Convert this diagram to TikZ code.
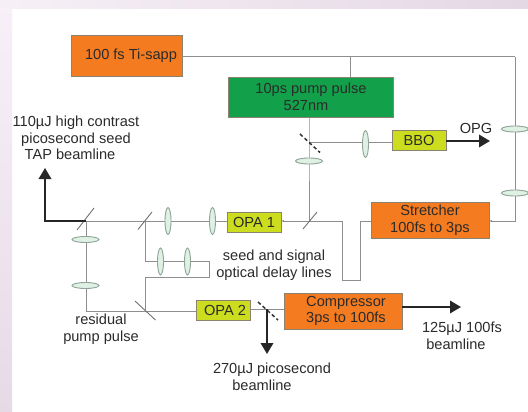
\documentclass[tikz,border=0pt]{standalone}
\usepackage{fontspec}
\setmainfont{Liberation Sans}
\usetikzlibrary{shapes.geometric,arrows.meta}
\definecolor{orangebox}{HTML}{F47B20}
\definecolor{greenbox}{HTML}{12A04A}
\definecolor{yellowbox}{HTML}{CCDC1E}
\definecolor{beamgray}{HTML}{8E8E8E}
\definecolor{edgegray}{HTML}{8C8270}
\definecolor{lensfill}{HTML}{DFF0E4}
\definecolor{lensedge}{HTML}{8FA396}
\definecolor{inktext}{HTML}{2B2B2B}
\tikzset{
  base/.style={draw=edgegray,line width=0.9pt,rectangle,inner sep=0pt,text=inktext,align=center,font=\fontsize{14.6}{16.6}\selectfont},
  orangeb/.style={base,fill=orangebox},
  greenb/.style={base,fill=greenbox},
  yellowb/.style={base,fill=yellowbox},
  beam/.style={draw=beamgray,line width=1pt},
  power/.style={draw=black!85,line width=1.9pt,-{Triangle[length=11pt,width=12.5pt]}},
  feed/.style={beam,-{Latex[length=2.5pt,width=2.5pt]}},
  splitter/.style={draw=beamgray!80!black,line width=0.9pt},
  mirror/.style={draw=black!80,line width=1.5pt,dash pattern=on 3.6pt off 2.6pt},
  vlens/.style={ellipse,draw=lensedge,fill=lensfill,line width=0.9pt,minimum width=6pt,minimum height=27pt,inner sep=0pt},
  hlens/.style={ellipse,draw=lensedge,fill=lensfill,line width=0.9pt,minimum width=27pt,minimum height=6pt,inner sep=0pt},
  lab/.style={text=inktext,align=center,inner sep=0pt,font=\fontsize{14.6}{16.6}\selectfont}
}
\begin{document}
\begin{tikzpicture}[x=1pt,y=-1pt]
\useasboundingbox (0,0) rectangle (528,412);
% page background
\fill[white] (0,0) rectangle (528,412);
\shade[left color=black!1!white!95!violet,right color=black!6!white!90!violet] (0,0) rectangle (528,9);
\shade[top color=white!94!violet,bottom color=black!5!white!90!violet] (0,9) rectangle (12,412);
% boxes
\node[orangeb,minimum width=111pt,minimum height=41pt] (ti) at (126.5,55.5) {\hspace*{9pt}100 fs Ti-sapp};
\node[greenb,minimum width=165pt,minimum height=40pt] (pump) at (311,97) {10ps pump pulse\\527nm\hspace*{10pt}};
\node[yellowb,minimum width=54pt,minimum height=20pt] (bbo) at (419,140) {BBO};
\node[orangeb,minimum width=118pt,minimum height=36pt] (stretch) at (430,220) {Stretcher\\100fs to 3ps};
\node[yellowb,minimum width=54pt,minimum height=20pt] (opa1) at (254,222.5) {OPA 1};
\node[yellowb,minimum width=54pt,minimum height=20pt] (opa2) at (223,310) {\hspace*{4pt}OPA 2};
\node[orangeb,minimum width=118pt,minimum height=36pt] (comp) at (343,311) {\hspace*{6pt}Compressor\\\hspace*{6pt}3ps to 100fs};
% junctions
\coordinate (topr) at (515,57);
\coordinate (strR) at (515,221);
\coordinate (pumpT) at (350,57);
\coordinate (bsA) at (309,221);
\coordinate (mA) at (309,142);
\coordinate (bsB) at (145.5,221);
\coordinate (bsC) at (86,221);
\coordinate (bsD) at (145.5,311);
\coordinate (cor86) at (86,311);
\coordinate (d1) at (145.5,261);
\coordinate (d2) at (209,261);
\coordinate (d3) at (209,277);
\coordinate (d4) at (145.5,277);
\coordinate (s1) at (342,221);
\coordinate (s2) at (342,280);
\coordinate (s3) at (360,280);
\coordinate (s4) at (360,221.5);
\coordinate (tapC) at (45,221);
\coordinate (tapT) at (45,168);
\coordinate (mB) at (267,309);
\coordinate (mBd) at (267,354);
\coordinate (compOut) at (461,307);
\coordinate (opgOut) at (490,141);
% beams
\draw[beam] (ti.east |- topr) -- (topr);
\draw[feed] (topr) -- (strR) -- (stretch.east |- strR);
\draw[beam] (pumpT) -- (pumpT |- pump.north);
\draw[beam] (mA |- pump.south) -- (mA) -- (bsA);
\draw[beam] (mA) -- (bbo.west |- mA);
\draw[feed] (s4 -| stretch.west) -- (s4) -- (s3) -- (s2) -- (s1) -- (s1 -| opa1.east);
\draw[beam] (opa1.west |- bsC) -- (bsC);
\draw[beam] (bsB) -- (d1) -- (d2) -- (d3) -- (d4) -- (bsD);
\draw[beam] (bsC) -- (cor86) -- (opa2.west |- cor86);
\draw[beam] (opa2.east |- mB) -- (comp.west |- mB);
% splitters and mirrors
\draw[splitter] (77,230) -- (94,208);
\draw[splitter] (138,229.5) -- (152,212);
\draw[splitter] (303,229) -- (317,212);
\draw[splitter] (135,301) -- (155.5,320);
\draw[mirror] (300,134) -- (320,152.5);
\draw[mirror] (258,302) -- (278,320);
% lenses
\node[vlens] (l1) at (168,221) {};
\node[vlens] (l2) at (212.5,221) {};
\node[vlens] (l3) at (160.5,261.5) {};
\node[vlens] (l4) at (187.5,261.5) {};
\node[vlens] (l5) at (365.5,144) {};
\node[hlens] (l6) at (309,161) {};
\node[hlens] (l7) at (515,129) {};
\node[hlens] (l8) at (515,193) {};
\node[hlens] (l9) at (85.5,239.5) {};
\node[hlens] (l10) at (85.5,285.5) {};
% output beams
\draw[power] (bsC) -- (tapC) -- (tapT);
\draw[power] (bbo.east |- opgOut) -- (opgOut);
\draw[power] (mB) -- (mBd);
\draw[power] (comp.east |- compOut) -- (compOut);
% labels
\node[lab] (t1) at (76,138) {110µJ high contrast\\picosecond seed\hspace*{12pt}\\TAP beamline\hspace*{12pt}};
\node[lab] (t2) at (476,128) {OPG};
\node[lab] (t3) at (274,265.5) {seed and signal\\optical delay lines};
\node[lab] (t4) at (101,329) {residual\\pump pulse};
\node[lab] (t5) at (272,377) {270µJ picosecond\\beamline\hspace*{20pt}};
\node[lab] (t6) at (462,335.5) {125µJ 100fs\\beamline\hspace*{12pt}};
\end{tikzpicture}
\end{document}
